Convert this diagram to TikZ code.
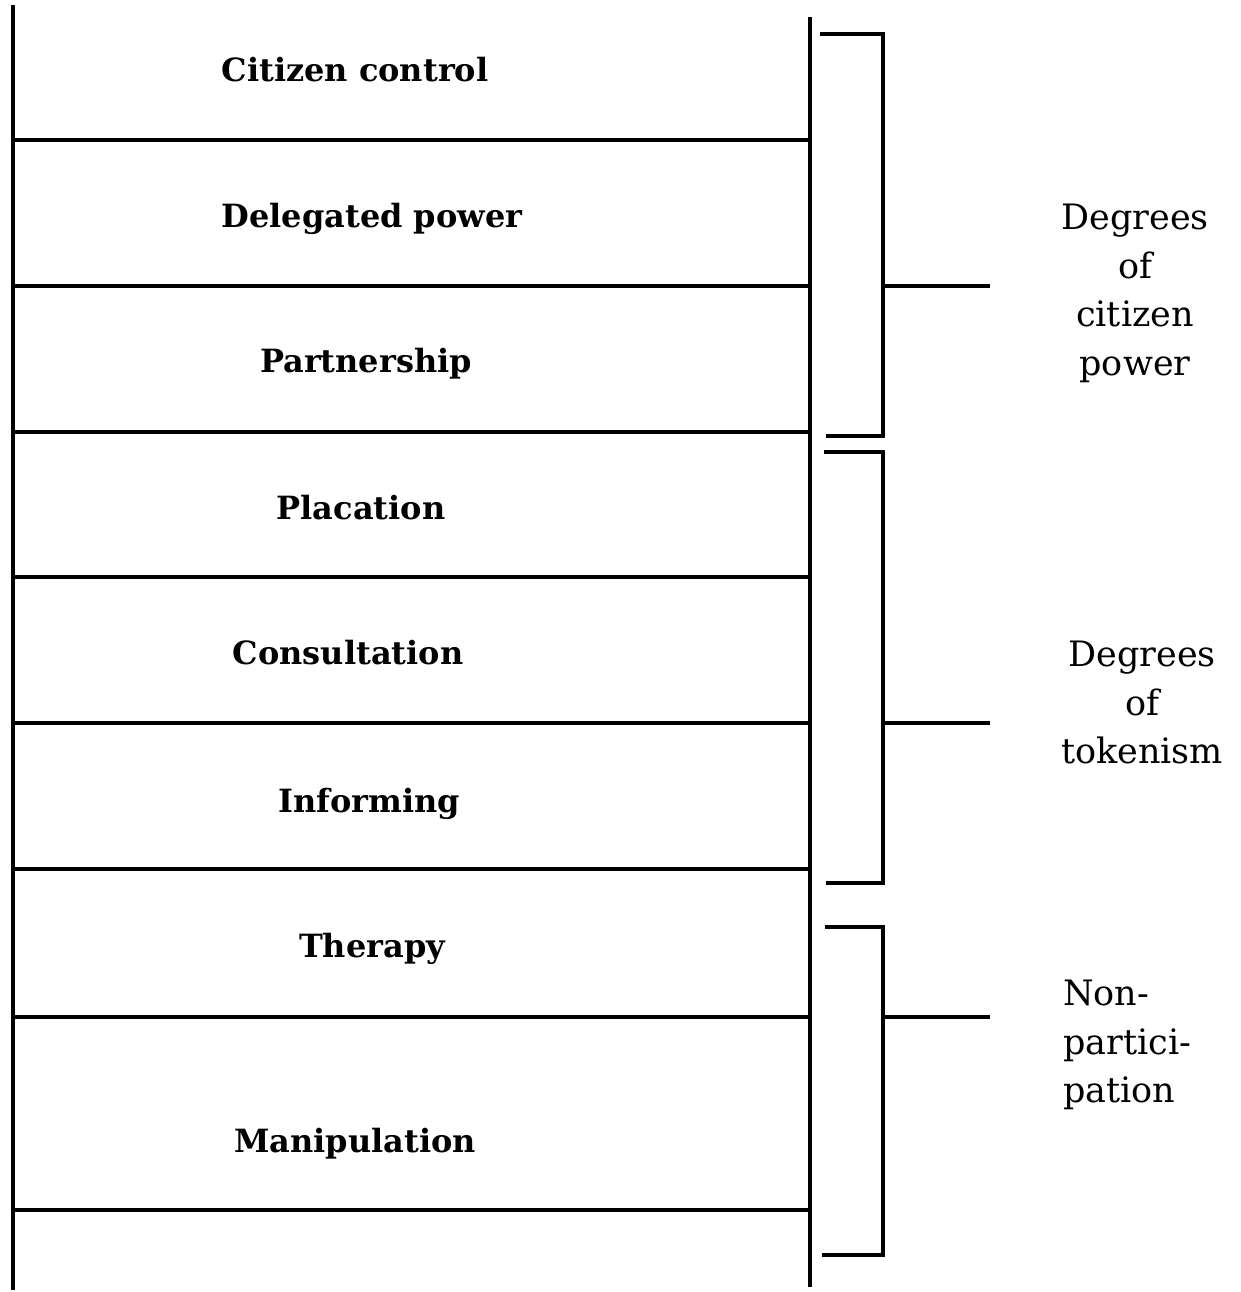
\documentclass[tikz,border=0pt]{standalone}
\usepackage{fontspec}
\setmainfont{DejaVu Serif}
\usetikzlibrary{positioning}
\tikzset{
  rail/.style={line width=3.5pt},
  rung/.style={line width=4.5pt},
  brace/.style={line width=3.5pt},
  rungtext/.style={inner sep=0pt, anchor=base, font=\bfseries\fontsize{32}{40}\selectfont},
  sidetext/.style={inner sep=0pt, anchor=north, align=center, font=\fontsize{35}{48.5}\selectfont}
}
\begin{document}
\begin{tikzpicture}[x=1pt,y=-1pt]
\useasboundingbox (0,0) rectangle (1241,1292);
% the ladder
\draw[rail] (13,5) to (13,1290);
\draw[rail] (810,17) to (810,1287);
\foreach \y in {140,286,432,577,723,869,1017,1210}
  \draw[rung] (13,\y) to (810,\y);
% rungs
\node[rungtext] (control) at (355,82) {Citizen control};
\node[rungtext] (delegated) at (372,227) {Delegated power};
\node[rungtext] (partner) at (366,372) {Partnership};
\node[rungtext] (placation) at (361,519) {Placation};
\node[rungtext] (consult) at (348,664) {Consultation};
\node[rungtext] (inform) at (369,812) {Informing};
\node[rungtext] (therapy) at (372,957) {Therapy};
\node[rungtext] (manip) at (355,1152) {Manipulation};
% brackets
\coordinate (powertick) at (990,286);
\coordinate (tokentick) at (990,723);
\coordinate (nontick) at (990,1017);
\draw[brace] (820,34) to (883,34) to (883,436) to (826,436);
\draw[brace] (883,286) to (powertick);
\draw[brace] (824,452) to (883,452) to (883,883) to (826,883);
\draw[brace] (883,723) to (tokentick);
\draw[brace] (825,927) to (883,927) to (883,1255) to (822,1255);
\draw[brace] (883,1017) to (nontick);
% groups
\node[sidetext] (power) at (1135,204) {Degrees\\of\\citizen\\power};
\node[sidetext] (token) at (1142,641) {Degrees\\of\\tokenism};
\node[sidetext, anchor=north west, align=left] (nonpart) at (1063,980) {Non-\\partici-\\pation};
\end{tikzpicture}
\end{document}
